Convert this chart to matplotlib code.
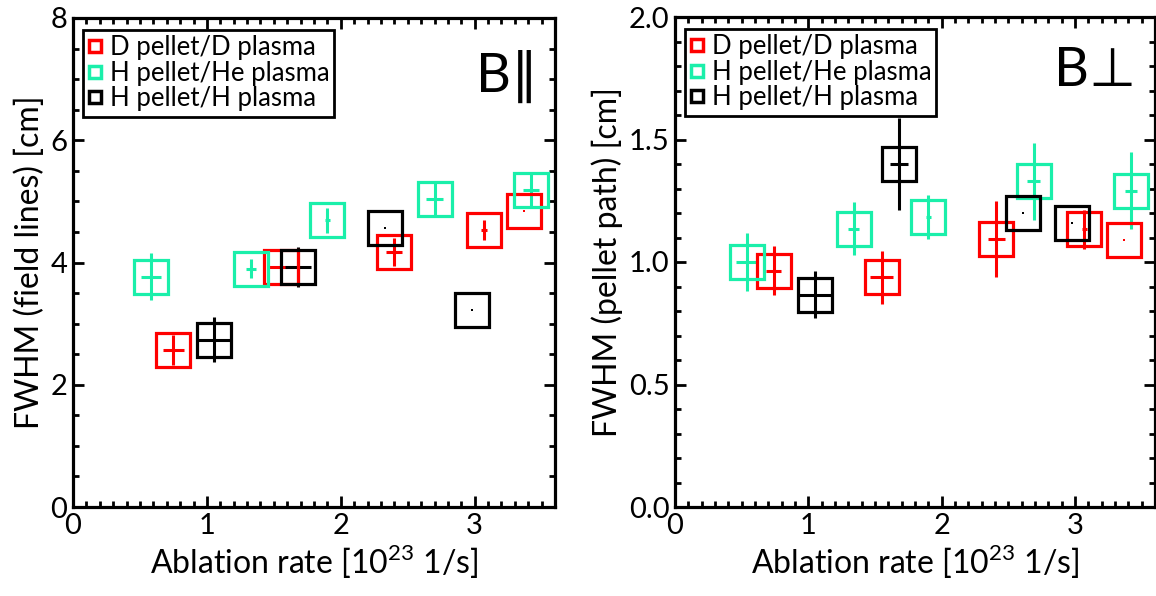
import matplotlib
matplotlib.use("Agg")
import matplotlib.pyplot as plt
from matplotlib.lines import Line2D
from matplotlib.ticker import MultipleLocator

plt.rcParams['font.family'] = ['Lato', 'DejaVu Sans']
plt.rcParams['mathtext.fontset'] = 'custom'
plt.rcParams['mathtext.rm'] = 'Lato'

labels = ["D pellet/D plasma", "H pellet/He plasma", "H pellet/H plasma"]
colors = ["#ff0000", "#1aefaa", "#000000"]

# B parallel panel: FWHM along field lines [cm]
par_x = [
    [0.75, 1.55, 2.40, 3.07, 3.37],
    [0.58, 1.33, 1.90, 2.70, 3.42],
    [1.05, 1.68, 2.33, 2.98],
]
par_y = [
    [2.57, 3.93, 4.17, 4.53, 4.85],
    [3.77, 3.90, 4.69, 5.04, 5.19],
    [2.74, 3.93, 4.56, 3.22],
]
par_xerr = [
    [0.08, 0.10, 0.06, 0.02, 0.0],
    [0.075, 0.04, 0.02, 0.06, 0.06],
    [0.125, 0.10, 0.0, 0.0],
]
par_yerr = [
    [0.25, 0.05, 0.23, 0.17, 0.0],
    [0.38, 0.15, 0.20, 0.28, 0.27],
    [0.37, 0.33, 0.0, 0.0],
]

# B perpendicular panel: FWHM along pellet path [cm]
perp_x = [
    [0.74, 1.55, 2.41, 3.07, 3.37],
    [0.54, 1.34, 1.90, 2.69, 3.42],
    [1.05, 1.68, 2.61, 2.98],
]
perp_y = [
    [0.965, 0.937, 1.093, 1.133, 1.09],
    [1.00, 1.136, 1.182, 1.33, 1.29],
    [0.867, 1.40, 1.20, 1.16],
]
perp_xerr = [
    [0.056, 0.088, 0.063, 0.02, 0.0],
    [0.08, 0.04, 0.02, 0.05, 0.044],
    [0.137, 0.07, 0.0, 0.0],
]
perp_yerr = [
    [0.10, 0.107, 0.155, 0.08, 0.0],
    [0.12, 0.107, 0.09, 0.157, 0.157],
    [0.095, 0.187, 0.0, 0.0],
]

fig = plt.figure(figsize=(11.56, 5.96), dpi=100)
ax1 = fig.add_axes([73 / 1156, 1 - 507 / 596, 482 / 1156, 489 / 596])
ax2 = fig.add_axes([675 / 1156, 1 - 507 / 596, 480 / 1156, 490 / 596])


def draw(ax, xs, ys, xe, ye):
    for x, y, dx, dy, c in zip(xs, ys, xe, ye, colors):
        ax.errorbar(x, y, xerr=dx, yerr=dy, fmt='s', ms=25, mfc='none', mec=c,
                    mew=2.3, ecolor=c, elinewidth=2.2, capsize=0)
        ax.plot(x, y, 's', ms=1.8, color=c, mew=0)


def style(ax, ymax, ymajor, yminor, fmt):
    ax.set_xlim(0, 3.6)
    ax.set_ylim(0, ymax)
    ax.xaxis.set_major_locator(MultipleLocator(1))
    ax.xaxis.set_minor_locator(MultipleLocator(0.1))
    ax.yaxis.set_major_locator(MultipleLocator(ymajor))
    ax.yaxis.set_minor_locator(MultipleLocator(yminor))
    ax.yaxis.set_major_formatter(fmt)
    ax.tick_params(which='both', direction='in', top=True, right=True,
                   width=2, labelsize=21, pad=4)
    ax.tick_params(which='major', length=8)
    ax.tick_params(which='minor', length=4)
    for s in ax.spines.values():
        s.set_linewidth(2.3)
    ax.set_xlabel("Ablation rate [10$^{23}$ 1/s]", fontsize=23, labelpad=3)
    handles = [Line2D([], [], ls='none', marker='s', ms=8, mfc='none', mec=c, mew=2.5)
               for c in colors]
    leg = ax.legend(handles, labels, loc='upper left', fontsize=18.5,
                    bbox_to_anchor=(0.02, 0.975), borderaxespad=0,
                    handlelength=0.55, handletextpad=0.3, labelspacing=0.02,
                    borderpad=0.2, fancybox=False, framealpha=1)
    leg.get_frame().set_edgecolor('black')
    leg.get_frame().set_linewidth(2)


draw(ax1, par_x, par_y, par_xerr, par_yerr)
style(ax1, 8, 2, 0.5, '{x:.0f}')
ax1.set_ylabel("FWHM (field lines) [cm]", fontsize=23, labelpad=4)
ax1.text(0.965, 0.935, "B\u2225", transform=ax1.transAxes, ha='right', va='top',
         fontsize=39, family=['Lato', 'DejaVu Sans'])

draw(ax2, perp_x, perp_y, perp_xerr, perp_yerr)
style(ax2, 2.0, 0.5, 0.1, '{x:.1f}')
ax2.set_ylabel("FWHM (pellet path) [cm]", fontsize=23, labelpad=4)
ax2.text(0.96, 0.94, "B\u22a5", transform=ax2.transAxes, ha='right', va='top',
         fontsize=39, family=['Lato', 'DejaVu Sans'])

fig.savefig("out.png", dpi=100)
